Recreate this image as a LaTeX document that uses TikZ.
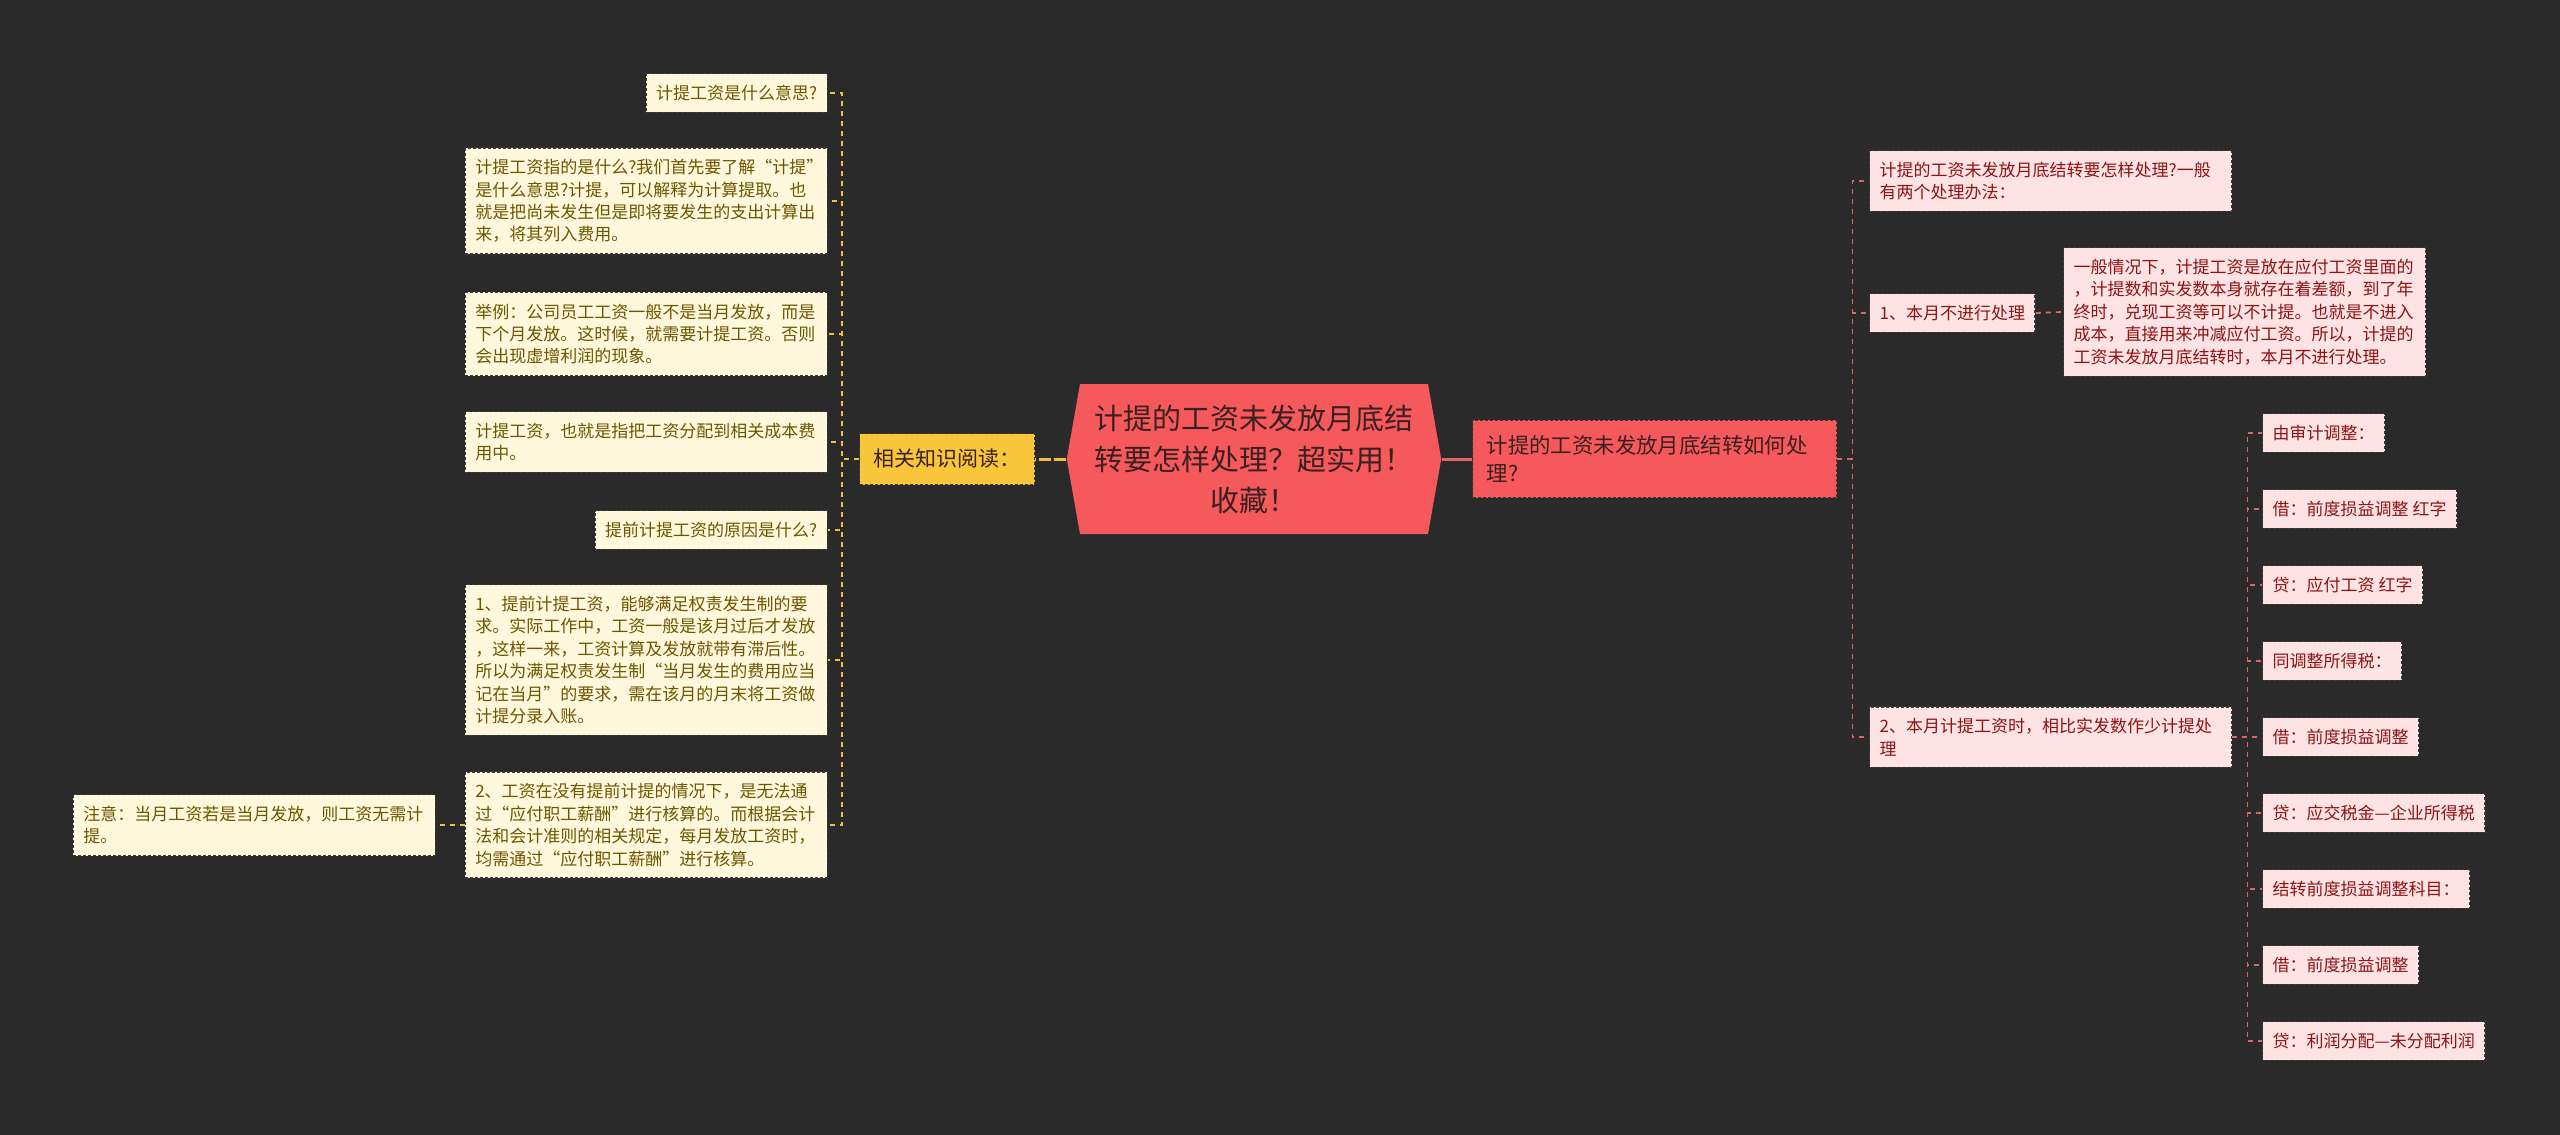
\documentclass[tikz,border=0pt]{standalone}
\usepackage{fontspec}
\setmainfont{Noto Sans CJK SC}
\usetikzlibrary{shapes.symbols}

\definecolor{bgdark}{HTML}{2A2A2A}
\definecolor{edgedark}{HTML}{3A3A3A}
\definecolor{creamfill}{HTML}{FFF8DC}
\definecolor{creamtext}{HTML}{6E5500}
\definecolor{goldfill}{HTML}{F8C63A}
\definecolor{linkyellow}{HTML}{F2C040}
\definecolor{pinkfill}{HTML}{FDE3E3}
\definecolor{pinktext}{HTML}{8E1414}
\definecolor{linkpink}{HTML}{E06666}
\definecolor{coral}{HTML}{F5595B}
\definecolor{darktext}{HTML}{3A2020}

\begin{document}
\begin{tikzpicture}[
    x=0.5pt, y=-0.5pt,
    every node/.style={font=\fontsize{8.5}{11.2}\selectfont},
    leaf/.style={rectangle, draw=edgedark, dash pattern=on 1.5pt off 1pt, line width=0.7pt, inner xsep=5pt, inner ysep=5.7pt, align=left},
    cream/.style={leaf, fill=creamfill, text=creamtext},
    pink/.style={leaf, fill=pinkfill, text=pinktext},
    wide/.style={text width=171pt},
    root/.style={signal, signal to=west and east, signal pointer angle=160, fill=coral, text=darktext, font=\fontsize{14.5}{20.5}\selectfont, align=center, text width=162pt, inner xsep=6pt, minimum height=75pt},
    zhishi/.style={leaf, fill=goldfill, text=darktext, font=\fontsize{10.5}{13}\selectfont, inner xsep=7pt, minimum height=25.5pt},
    branch/.style={leaf, fill=coral, text=darktext, font=\fontsize{10.7}{14}\selectfont, text width=168pt, inner xsep=7pt, inner ysep=7.6pt},
    ylink/.style={draw=linkyellow, dash pattern=on 2.5pt off 2.5pt, line width=0.9pt},
    plink/.style={draw=linkpink, dash pattern=on 2.5pt off 2.5pt, line width=0.9pt}
]
    \fill[bgdark] (0,0) rectangle (2560,1135);

    % Centro
    \node[root] (root) at (1254,459) {计提的工资未发放月底结\\转要怎样处理？超实用！\\收藏！};

    % Ramo sinistro
    \node[zhishi] (zhishi) at (947,459) {相关知识阅读：};

    \node[cream, anchor=east] (q1) at (828,93) {计提工资是什么意思?};
    \node[cream, wide, anchor=east] (q2) at (828,201) {计提工资指的是什么?我们首先要了解“计提”\\是什么意思?计提，可以解释为计算提取。也\\就是把尚未发生但是即将要发生的支出计算出\\来，将其列入费用。};
    \node[cream, wide, anchor=east] (q3) at (828,334) {举例：公司员工工资一般不是当月发放，而是\\下个月发放。这时候，就需要计提工资。否则\\会出现虚增利润的现象。};
    \node[cream, wide, anchor=east] (q4) at (828,442) {计提工资，也就是指把工资分配到相关成本费\\用中。};
    \node[cream, anchor=east] (q5) at (828,530) {提前计提工资的原因是什么?};
    \node[cream, wide, anchor=east] (q6) at (828,660) {1、提前计提工资，能够满足权责发生制的要\\求。实际工作中，工资一般是该月过后才发放\\，这样一来，工资计算及发放就带有滞后性。\\所以为满足权责发生制“当月发生的费用应当\\记在当月”的要求，需在该月的月末将工资做\\计提分录入账。};
    \node[cream, wide, anchor=east] (q7) at (828,825) {2、工资在没有提前计提的情况下，是无法通\\过“应付职工薪酬”进行核算的。而根据会计\\法和会计准则的相关规定，每月发放工资时，\\均需通过“应付职工薪酬”进行核算。};
    \node[cream, wide, anchor=east] (note) at (436,825) {注意：当月工资若是当月发放，则工资无需计\\提。};

    \draw[linkyellow, line width=1.5pt, dash pattern=on 6pt off 1.5pt] (root.west) -- (zhishi.east);
    \draw[ylink] (zhishi.west) -- ++(-17,0) |- (q1.east);
    \draw[ylink] (zhishi.west) -- ++(-17,0) |- (q2.east);
    \draw[ylink] (zhishi.west) -- ++(-17,0) |- (q3.east);
    \draw[ylink] (zhishi.west) -- ++(-17,0) |- (q4.east);
    \draw[ylink] (zhishi.west) -- ++(-17,0) |- (q5.east);
    \draw[ylink] (zhishi.west) -- ++(-17,0) |- (q6.east);
    \draw[ylink] (zhishi.west) -- ++(-17,0) |- (q7.east);
    \draw[ylink] (q7.west) -- (note.east);

    % Ramo destro
    \node[branch, anchor=west] (branch) at (1472,459) {计提的工资未发放月底结转如何处\\理?};

    \node[pink, wide, anchor=west] (ra) at (1869,181) {计提的工资未发放月底结转要怎样处理?一般\\有两个处理办法：};
    \node[pink, anchor=west] (rb) at (1869,313) {1、本月不进行处理};
    \node[pink, wide, anchor=west] (rc) at (2063,312) {一般情况下，计提工资是放在应付工资里面的\\，计提数和实发数本身就存在着差额，到了年\\终时，兑现工资等可以不计提。也就是不进入\\成本，直接用来冲减应付工资。所以，计提的\\工资未发放月底结转时，本月不进行处理。};
    \node[pink, wide, anchor=west] (rd) at (1869,737) {2、本月计提工资时，相比实发数作少计提处\\理};

    \draw[linkpink, line width=1.5pt] (root.east) -- (branch.west);
    \draw[plink] (branch.east) -- ++(15,0) |- (ra.west);
    \draw[plink] (branch.east) -- ++(15,0) |- (rb.west);
    \draw[plink] (branch.east) -- ++(15,0) |- (rd.west);
    \draw[plink] (rb.east) -- (rc.west);

    % Scritture contabili
    \node[pink, anchor=west] (e1) at (2262,433) {由审计调整：};
    \node[pink, anchor=west] (e2) at (2262,509) {借：前度损益调整 红字};
    \node[pink, anchor=west] (e3) at (2262,585) {贷：应付工资 红字};
    \node[pink, anchor=west] (e4) at (2262,661) {同调整所得税：};
    \node[pink, anchor=west] (e5) at (2262,737) {借：前度损益调整};
    \node[pink, anchor=west] (e6) at (2262,813) {贷：应交税金—企业所得税};
    \node[pink, anchor=west] (e7) at (2262,889) {结转前度损益调整科目：};
    \node[pink, anchor=west] (e8) at (2262,965) {借：前度损益调整};
    \node[pink, anchor=west] (e9) at (2262,1041) {贷：利润分配—未分配利润};

    \draw[plink] (rd.east) -- ++(15,0) |- (e1.west);
    \draw[plink] (rd.east) -- ++(15,0) |- (e2.west);
    \draw[plink] (rd.east) -- ++(15,0) |- (e3.west);
    \draw[plink] (rd.east) -- ++(15,0) |- (e4.west);
    \draw[plink] (rd.east) -- (e5.west);
    \draw[plink] (rd.east) -- ++(15,0) |- (e6.west);
    \draw[plink] (rd.east) -- ++(15,0) |- (e7.west);
    \draw[plink] (rd.east) -- ++(15,0) |- (e8.west);
    \draw[plink] (rd.east) -- ++(15,0) |- (e9.west);
\end{tikzpicture}
\end{document}
